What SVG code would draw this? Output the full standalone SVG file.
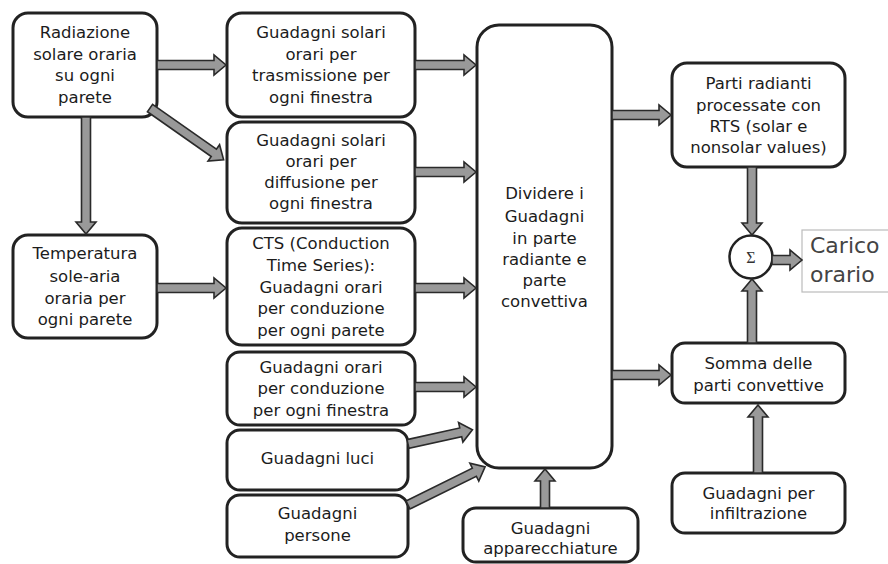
<svg xmlns="http://www.w3.org/2000/svg" width="888" height="564" viewBox="0 0 888 564">
<style>
.box{fill:#fff;stroke:#222;stroke-width:3}
.t{font-family:"DejaVu Sans",Verdana,sans-serif;font-size:16.5px;fill:#1c1c1c;text-anchor:middle}
.arr{fill:#999;stroke:#2a2a2a;stroke-width:1.6;stroke-linejoin:miter}
.big{font-family:"DejaVu Sans",Verdana,sans-serif;font-size:22px;fill:#444}
</style>
<rect width="888" height="564" fill="#fff"/>
<g id="n-radiazione">
<rect class="box" x="13" y="13" width="144" height="104" rx="15"/>
<text class="t"><tspan x="85" y="38">Radiazione</tspan><tspan x="85" y="60">solare oraria</tspan><tspan x="85" y="81">su ogni</tspan><tspan x="85" y="103">parete</tspan></text>
</g>
<g id="n-trasmissione">
<rect class="box" x="227" y="13" width="188" height="104" rx="15"/>
<text class="t"><tspan x="321" y="38">Guadagni solari</tspan><tspan x="321" y="60">orari per</tspan><tspan x="321" y="81">trasmissione per</tspan><tspan x="321" y="103">ogni finestra</tspan></text>
</g>
<g id="n-diffusione">
<rect class="box" x="227" y="122" width="188" height="101" rx="15"/>
<text class="t"><tspan x="321" y="146">Guadagni solari</tspan><tspan x="321" y="167">orari per</tspan><tspan x="321" y="188">diffusione per</tspan><tspan x="321" y="209">ogni finestra</tspan></text>
</g>
<g id="n-temperatura">
<rect class="box" x="13" y="235" width="144" height="103" rx="15"/>
<text class="t"><tspan x="85" y="259">Temperatura</tspan><tspan x="85" y="282">sole-aria</tspan><tspan x="85" y="304">oraria per</tspan><tspan x="85" y="325">ogni parete</tspan></text>
</g>
<g id="n-cts">
<rect class="box" x="227" y="228" width="188" height="117" rx="15"/>
<text class="t"><tspan x="321" y="249">CTS (Conduction</tspan><tspan x="321" y="271">Time Series):</tspan><tspan x="321" y="293">Guadagni orari</tspan><tspan x="321" y="314">per conduzione</tspan><tspan x="321" y="336">per ogni parete</tspan></text>
</g>
<g id="n-cond-finestra">
<rect class="box" x="227" y="352" width="188" height="73" rx="13"/>
<text class="t"><tspan x="321" y="373">Guadagni orari</tspan><tspan x="321" y="394">per conduzione</tspan><tspan x="321" y="416">per ogni finestra</tspan></text>
</g>
<g id="n-luci">
<rect class="box" x="227" y="430" width="181" height="60" rx="13"/>
<text class="t"><tspan x="317.5" y="464">Guadagni luci</tspan></text>
</g>
<g id="n-persone">
<rect class="box" x="227" y="495" width="181" height="62" rx="13"/>
<text class="t"><tspan x="317.5" y="519">Guadagni</tspan><tspan x="317.5" y="541">persone</tspan></text>
</g>
<g id="n-apparecchiature">
<rect class="box" x="463" y="508" width="175" height="54" rx="13"/>
<text class="t"><tspan x="550.5" y="534">Guadagni</tspan><tspan x="550.5" y="554">apparecchiature</tspan></text>
</g>
<g id="n-dividere">
<rect class="box" x="477" y="25" width="135" height="443" rx="22"/>
<text class="t"><tspan x="544.5" y="199">Dividere i</tspan><tspan x="544.5" y="222">Guadagni</tspan><tspan x="544.5" y="244">in parte</tspan><tspan x="544.5" y="265">radiante e</tspan><tspan x="544.5" y="286">parte</tspan><tspan x="544.5" y="307">convettiva</tspan></text>
</g>
<g id="n-radianti">
<rect class="box" x="672" y="63" width="173" height="104" rx="15"/>
<text class="t"><tspan x="758.5" y="89">Parti radianti</tspan><tspan x="758.5" y="111">processate con</tspan><tspan x="758.5" y="132">RTS (solar e</tspan><tspan x="758.5" y="153">nonsolar values)</tspan></text>
</g>
<g id="n-somma">
<rect class="box" x="672" y="343" width="173" height="60" rx="13"/>
<text class="t"><tspan x="758.5" y="369">Somma delle</tspan><tspan x="758.5" y="391">parti convettive</tspan></text>
</g>
<g id="n-infiltrazione">
<rect class="box" x="672" y="473" width="173" height="60" rx="13"/>
<text class="t"><tspan x="758.5" y="499">Guadagni per</tspan><tspan x="758.5" y="519">infiltrazione</tspan></text>
</g>
<g id="n-sigma">
<circle cx="751" cy="257" r="21.5" fill="#fff" stroke="#222" stroke-width="2.5"/>
<text x="751" y="263" font-family="'Liberation Serif',serif" font-size="16" fill="#333" text-anchor="middle">Σ</text>
</g>
<g id="n-carico">
<rect x="802" y="230" width="92" height="62" fill="#fff" stroke="#bbb" stroke-width="1.2"/>
<text class="big"><tspan x="810" y="253">Carico</tspan><tspan x="810" y="282">orario</tspan></text>
</g>
<g id="connectors">
<path class="arr" transform="translate(157,65)" d="M0,-4.5 H57 V-10 L69,0 L57,10 V4.5 H0 Z"/>
<path class="arr" transform="translate(150,108) rotate(35.1)" d="M0,-4.5 H78 V-10 L90,0 L78,10 V4.5 H0 Z"/>
<path class="arr" transform="translate(86,117) rotate(90)" d="M0,-4.5 H105 V-10 L117,0 L105,10 V4.5 H0 Z"/>
<path class="arr" transform="translate(157,288)" d="M0,-4.5 H57 V-10 L69,0 L57,10 V4.5 H0 Z"/>
<path class="arr" transform="translate(415,65)" d="M0,-4.5 H49 V-10 L61,0 L49,10 V4.5 H0 Z"/>
<path class="arr" transform="translate(415,172)" d="M0,-4.5 H49 V-10 L61,0 L49,10 V4.5 H0 Z"/>
<path class="arr" transform="translate(415,288)" d="M0,-4.5 H49 V-10 L61,0 L49,10 V4.5 H0 Z"/>
<path class="arr" transform="translate(415,387)" d="M0,-4.5 H49 V-10 L61,0 L49,10 V4.5 H0 Z"/>
<path class="arr" transform="translate(408,444) rotate(-12.5)" d="M0,-4.5 H54 V-10 L66,0 L54,10 V4.5 H0 Z"/>
<path class="arr" transform="translate(408,505) rotate(-26.3)" d="M0,-4.5 H74 V-10 L86,0 L74,10 V4.5 H0 Z"/>
<path class="arr" transform="translate(545,508) rotate(-90)" d="M0,-4.5 H27 V-10 L39,0 L27,10 V4.5 H0 Z"/>
<path class="arr" transform="translate(612,115)" d="M0,-4.5 H47 V-10 L59,0 L47,10 V4.5 H0 Z"/>
<path class="arr" transform="translate(612,375)" d="M0,-4.5 H47 V-10 L59,0 L47,10 V4.5 H0 Z"/>
<path class="arr" transform="translate(752,167) rotate(90)" d="M0,-4.5 H56 V-10 L68,0 L56,10 V4.5 H0 Z"/>
<path class="arr" transform="translate(752,343) rotate(-90)" d="M0,-4.5 H52 V-10 L64,0 L52,10 V4.5 H0 Z"/>
<path class="arr" transform="translate(758,473) rotate(-90)" d="M0,-4.5 H56 V-10 L68,0 L56,10 V4.5 H0 Z"/>
<path class="arr" transform="translate(772,260)" d="M0,-4.5 H18 V-10 L30,0 L18,10 V4.5 H0 Z"/>
</g>
</svg>
